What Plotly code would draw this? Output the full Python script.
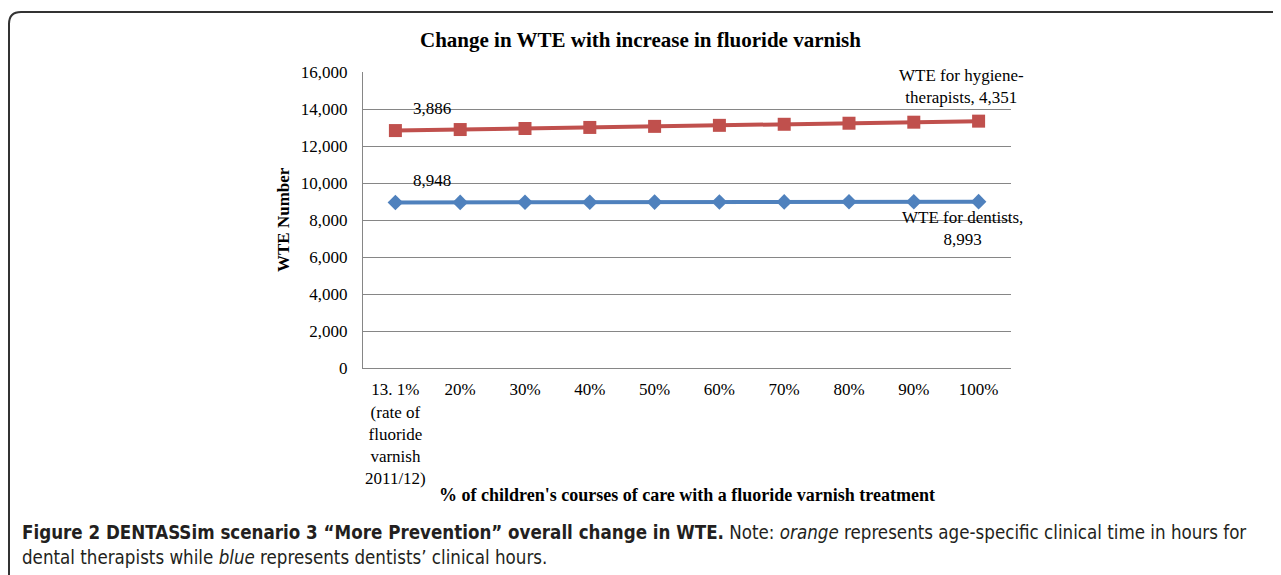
import plotly.graph_objects as go

categories = ["13. 1%<br>(rate of<br>fluoride<br>varnish<br>2011/12)", "20%", "30%", "40%", "50%",
              "60%", "70%", "80%", "90%", "100%"]
dentists = [8948, 8952, 8957, 8962, 8968, 8973, 8978, 8983, 8988, 8993]
hygiene_therapists = [3886, 3938, 3989, 4041, 4093, 4144, 4196, 4248, 4299, 4351]
y_ticks = [0, 2000, 4000, 6000, 8000, 10000, 12000, 14000, 16000]

stacked_top = [d + h for d, h in zip(dentists, hygiene_therapists)]

W, H = 1281, 575
OFF = 8  # page body margin
L, R, T, B = 363 - OFF, 1011 - OFF, 72 - OFF, 368 - OFF  # plot area in figure px


def px(x):
    return (x - OFF - L) / (R - L)


def py(y):
    return (B - (y - OFF)) / (B - T)


SERIF = "Liberation Serif, Times New Roman, serif"
CAP = "Liberation Sans Narrow, DejaVu Sans Condensed, Arial Narrow, sans-serif"

fig = go.Figure()
fig.add_trace(go.Scatter(
    x=categories, y=dentists, mode="lines+markers", name="WTE for dentists",
    line=dict(color="#4F81BD", width=4),
    marker=dict(symbol="diamond", size=12, color="#4F81BD"),
))
fig.add_trace(go.Scatter(
    x=categories, y=stacked_top, mode="lines+markers", name="WTE for hygiene-therapists",
    line=dict(color="#C0504D", width=4),
    marker=dict(symbol="square", size=13, color="#C0504D"),
))

ann = []
# data labels
ann.append(dict(x=categories[0], y=dentists[0], xref="x", yref="y", text=f"{dentists[0]:,}",
                showarrow=False, xshift=37, yshift=22, font=dict(family=SERIF, size=17, color="#000")))
ann.append(dict(x=categories[0], y=stacked_top[0], xref="x", yref="y", text=f"{hygiene_therapists[0]:,}",
                showarrow=False, xshift=37, yshift=22, font=dict(family=SERIF, size=17, color="#000")))
ann.append(dict(x=categories[-1], y=dentists[-1], xref="x", yref="y",
                text=f"WTE for dentists,<br>{dentists[-1]:,}",
                showarrow=False, xshift=-16, yshift=-27, align="center",
                font=dict(family=SERIF, size=17, color="#000")))
ann.append(dict(x=categories[-1], y=stacked_top[-1], xref="x", yref="y",
                text=f"WTE for hygiene-<br>therapists, {hygiene_therapists[-1]:,}",
                showarrow=False, xshift=-17, yshift=35, align="center",
                font=dict(family=SERIF, size=17, color="#000")))
# titles
ann.append(dict(x=px(640), y=py(40), xref="paper", yref="paper", xanchor="center", yanchor="middle",
                text="<b>Change in WTE with increase in fluoride varnish</b>",
                showarrow=False, font=dict(family=SERIF, size=21, color="#000")))
ann.append(dict(x=px(687), y=py(495), xref="paper", yref="paper", xanchor="center", yanchor="middle",
                text="<b>% of children's courses of care with a fluoride varnish treatment</b>",
                showarrow=False, font=dict(family=SERIF, size=18, color="#000")))
ann.append(dict(x=px(283), y=py(220), xref="paper", yref="paper", xanchor="center", yanchor="middle",
                text="<b>WTE Number</b>", textangle=-90,
                showarrow=False, font=dict(family=SERIF, size=17, color="#000")))
# caption
ann.append(dict(x=px(20), y=py(532), xref="paper", yref="paper", xanchor="left", yanchor="middle",
                text="<b>Figure 2 DENTASSim scenario 3 \u201cMore Prevention\u201d overall change in WTE.</b> Note: <i>orange</i> represents age-specific clinical time in hours for",
                showarrow=False, font=dict(family=CAP, size=18.6, color="#231F20")))
ann.append(dict(x=px(20), y=py(557), xref="paper", yref="paper", xanchor="left", yanchor="middle",
                text="dental therapists while <i>blue</i> represents dentists\u2019 clinical hours.",
                showarrow=False, font=dict(family=CAP, size=18.6, color="#231F20")))

# rounded border
x0, x1 = px(9), px(1300)
y0, y1 = py(12), py(600)
rx = 12 / (R - L)
ry = 12 / (B - T)
path = (f"M {x0+rx},{y0} L {x1},{y0} L {x1},{y1} L {x0},{y1} L {x0},{y0-ry} "
        f"Q {x0},{y0} {x0+rx},{y0} Z")
shapes = [dict(type="path", xref="paper", yref="paper", path=path,
               line=dict(color="#333333", width=2), layer="below")]

fig.update_layout(
    width=W, height=H,
    margin=dict(l=L, r=W - R, t=T, b=H - B),
    paper_bgcolor="white", plot_bgcolor="white",
    showlegend=False,
    font=dict(family=SERIF, size=17, color="#000"),
    xaxis=dict(type="category", showgrid=False, showline=True, linecolor="#868686", linewidth=1,
               ticks="", tickfont=dict(family=SERIF, size=17, color="#000"), ticklabelstandoff=6,
               range=[-0.5, len(categories) - 0.5], fixedrange=True),
    yaxis=dict(range=[0, 16000], tickvals=y_ticks, tickformat=",", showgrid=True, gridcolor="#868686",
               gridwidth=1, showline=True, linecolor="#868686", linewidth=1, zeroline=False,
               ticks="", tickfont=dict(family=SERIF, size=17, color="#000"), ticklabelstandoff=11,
               fixedrange=True),
    annotations=ann,
    shapes=shapes,
)

fig.write_html("out.html")
